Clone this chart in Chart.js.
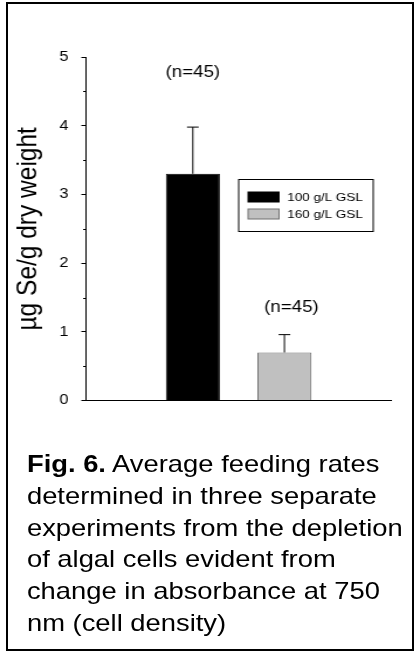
<!DOCTYPE html>
<html>
<head>
<meta charset="utf-8">
<script src="https://cdn.jsdelivr.net/npm/chart.js@4.4.1/dist/chart.umd.min.js"></script>
<style>
  body { margin: 0; background: #fff; width: 414px; height: 654px; overflow: hidden; position: relative;
         font-family: "Liberation Sans", Arial, sans-serif; }
  #frame { position: absolute; left: 6px; top: 2px; width: 404px; height: 645px; border: 2px solid #000; }
  /* the reference figure is stretched sideways, so the content is drawn narrow and widened */
  #stretch { position: absolute; left: 0; top: 0; width: 354px; height: 654px;
             transform: scaleX(1.17); transform-origin: 0 0; }
  #plot { position: absolute; left: 0; top: 0; width: 354px; height: 420px; }
  #caption { position: absolute; left: 23px; top: 449px; font-size: 23.4px; line-height: 31.8px;
             color: #000; white-space: nowrap; }
</style>
</head>
<body>
<div id="frame"></div>
<div id="stretch">
  <div id="plot"><canvas id="seChart"></canvas></div>
  <div id="caption"><b>Fig. 6.</b> Average feeding rates<br>determined in three separate<br>experiments from the depletion<br>of algal cells evident from<br>change in absorbance at 750<br>nm (cell density)</div>
</div>
<script>
const groups = [''];
const seriesNames = ['100 g/L GSL', '160 g/L GSL'];
const meanSe = [3.3, 0.7];
const seError = [0.68, 0.26];
const sampleNotes = ['(n=45)', '(n=45)'];
const noteAt = [4.78, 1.35];
const yTicks = [0, 1, 2, 3, 4, 5];

const fills = ['#000000', '#c0c0c0'];
const edges = ['#000000', '#707070'];

// whiskers above each bar, plus the (n=..) notes
const errorBars = {
    id: 'errorBars',
    afterDatasetsDraw(chart) {
        const ctx = chart.ctx;
        const y = chart.scales.y;
        ctx.save();
        ctx.strokeStyle = '#000';
        ctx.lineWidth = 1;
        chart.data.datasets.forEach((ds, i) => {
            const bar = chart.getDatasetMeta(i).data[0];
            const top = y.getPixelForValue(meanSe[i] + seError[i]);
            ctx.beginPath();
            ctx.moveTo(bar.x, bar.y);
            ctx.lineTo(bar.x, top);
            ctx.moveTo(bar.x - 5, top);
            ctx.lineTo(bar.x + 5, top);
            ctx.stroke();

            ctx.fillStyle = '#000';
            ctx.font = '16px "Liberation Sans", Arial, sans-serif';
            ctx.textAlign = 'center';
            ctx.textBaseline = 'middle';
            ctx.fillText(sampleNotes[i], bar.x + (i === 1 ? 6 : 0), y.getPixelForValue(noteAt[i]));
        });
        ctx.restore();
    }
};

// short ticks halfway between the labelled ones
const minorTicks = {
    id: 'minorTicks',
    afterDraw(chart) {
        const ctx = chart.ctx;
        const y = chart.scales.y;
        const left = chart.chartArea.left;
        ctx.save();
        ctx.strokeStyle = '#000';
        ctx.lineWidth = 1;
        for (let k = 0; k < yTicks.length - 1; k++) {
            const py = Math.round(y.getPixelForValue((yTicks[k] + yTicks[k + 1]) / 2)) + 0.5;
            ctx.beginPath();
            ctx.moveTo(left - 2.5, py);
            ctx.lineTo(left, py);
            ctx.stroke();
        }
        ctx.restore();
    }
};

// boxed legend inside the plot
const boxLegend = {
    id: 'boxLegend',
    afterDraw(chart) {
        const ctx = chart.ctx;
        const area = chart.chartArea;
        const bx = area.left + 130, by = area.top + 122;
        ctx.save();
        ctx.fillStyle = '#fff';
        ctx.fillRect(bx, by, 115, 52);
        ctx.strokeStyle = '#000';
        ctx.lineWidth = 1;
        ctx.strokeRect(bx + 0.5, by + 0.5, 115, 52);
        ctx.font = '11.5px "Liberation Sans", Arial, sans-serif';
        ctx.textAlign = 'left';
        ctx.textBaseline = 'middle';
        chart.data.datasets.forEach((ds, i) => {
            const sy = by + 13 + i * 17;
            ctx.fillStyle = ds.backgroundColor;
            ctx.fillRect(bx + 8.5, sy, 26.5, 10);
            ctx.strokeStyle = ds.borderColor;
            ctx.strokeRect(bx + 8.5, sy, 26.5, 10);
            ctx.fillStyle = '#000';
            ctx.fillText(ds.label, bx + 42, sy + 5.5);
        });
        ctx.restore();
    }
};

new Chart(document.getElementById('seChart'), {
    type: 'bar',
    data: {
        labels: groups,
        datasets: seriesNames.map((name, i) => ({
            label: name,
            data: [meanSe[i]],
            backgroundColor: fills[i],
            borderColor: edges[i],
            borderWidth: 1,
            categoryPercentage: 0.6,
            barPercentage: 0.59
        }))
    },
    options: {
        responsive: true,
        maintainAspectRatio: false,
        animation: false,
        layout: {
            padding: { left: 10, right: 19.6, top: 57, bottom: 16 }
        },
        plugins: {
            legend: { display: false },
            tooltip: { enabled: false }
        },
        scales: {
            x: {
                ticks: { display: false },
                grid: { display: false },
                border: { display: true, color: '#000', width: 1 },
                afterFit: (scale) => { scale.height = 0; }
            },
            y: {
                min: yTicks[0],
                max: yTicks[yTicks.length - 1],
                afterBuildTicks: (scale) => { scale.ticks = yTicks.map(v => ({ value: v })); },
                ticks: {
                    color: '#000',
                    padding: 11,
                    font: { family: '"Liberation Sans", Arial, sans-serif', size: 14 }
                },
                grid: {
                    drawOnChartArea: false,
                    drawTicks: true,
                    tickLength: 4,
                    tickColor: '#000',
                    tickWidth: 1
                },
                border: { display: true, color: '#000', width: 1 },
                title: {
                    display: true,
                    text: 'µg Se/g dry weight',
                    color: '#000',
                    padding: 0,
                    font: { family: '"Liberation Sans", Arial, sans-serif', size: 24.5 }
                },
                afterFit: (scale) => { scale.width = 63.5; }
            }
        }
    },
    plugins: [errorBars, minorTicks, boxLegend]
});
</script>
</body>
</html>
